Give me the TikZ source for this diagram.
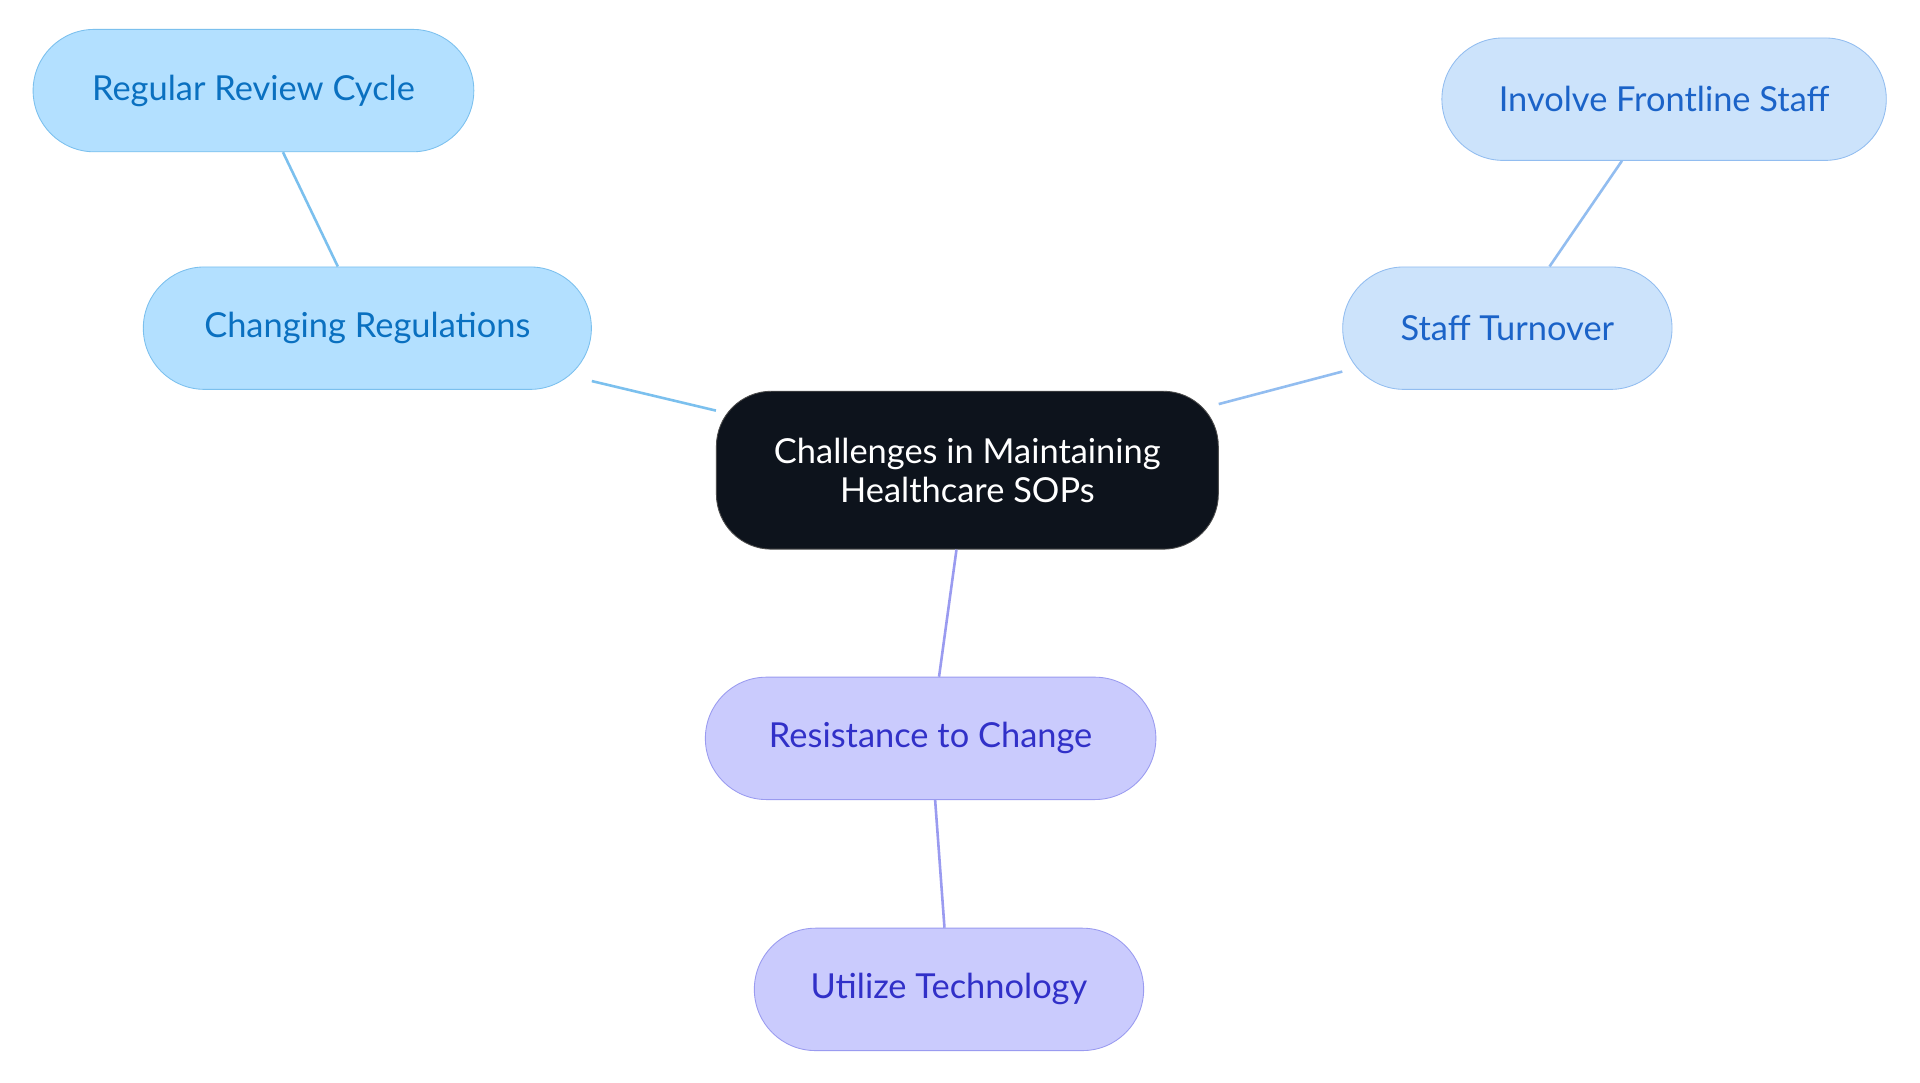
\documentclass[tikz,border=0pt]{standalone}
\usepackage{fontspec}
\setmainfont{Lato}
\usepackage{tikz}
\usetikzlibrary{positioning}

\definecolor{rootfill}{HTML}{0D131C}
\definecolor{regfill}{HTML}{B3E0FF}
\definecolor{regline}{HTML}{7BC0EE}
\definecolor{regtext}{HTML}{0A70C0}
\definecolor{stafffill}{HTML}{CCE3FB}
\definecolor{staffline}{HTML}{92BDF0}
\definecolor{stafftext}{HTML}{1B63C8}
\definecolor{resfill}{HTML}{CACBFD}
\definecolor{resline}{HTML}{9A9BF0}
\definecolor{restext}{HTML}{3130C8}

\begin{document}
\begin{tikzpicture}[
        x=0.02cm, y=-0.02cm,
        root/.style={rectangle, rounded corners=0.9cm, draw=black!70, fill=rootfill, text=white, minimum width=8.2cm, minimum height=2.58cm, align=center, font=\fontsize{16}{18}\selectfont},
        topic/.style={rectangle, rounded corners=1cm, minimum height=2cm, font=\fontsize{16}{19}\selectfont},
        reg/.style={topic, draw=regline, fill=regfill, text=regtext},
        staff/.style={topic, draw=staffline, fill=stafffill, text=stafftext},
        res/.style={topic, draw=resline, fill=resfill, text=restext}
      ]
        \fill[white] (0,0) rectangle (1568,884);

        \node[root]  (root)     at (790,384)                        {Challenges in Maintaining\\Healthcare SOPs};
        \node[reg, minimum width=7.32cm]   (changing) at (300,268)  {Changing Regulations};
        \node[reg, minimum width=7.2cm]    (review)   at (207,74)   {Regular Review Cycle};
        \node[staff, minimum width=5.38cm] (turnover) at (1231,268) {Staff Turnover};
        \node[staff, minimum width=7.26cm] (involve)  at (1359,81)  {Involve Frontline Staff};
        \node[res, minimum width=7.36cm]   (resist)   at (760,603)  {Resistance to Change};
        \node[res, minimum width=6.36cm]   (utilize)  at (775,808)  {Utilize Technology};

        \draw[regline, very thick]   (root) -- (changing);
        \draw[regline, very thick]   (changing) -- (review);
        \draw[staffline, very thick] (root) -- (turnover);
        \draw[staffline, very thick] (turnover) -- (involve);
        \draw[resline, very thick]   (root) -- (resist);
        \draw[resline, very thick]   (resist) -- (utilize);
      \end{tikzpicture}
\end{document}
